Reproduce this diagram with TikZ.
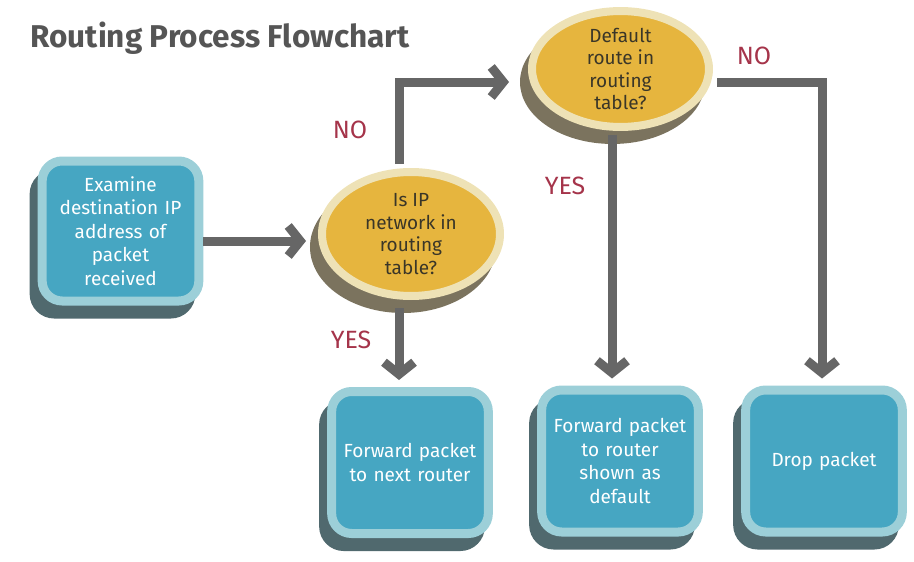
\documentclass[tikz,border=0pt]{standalone}
\usepackage{fontspec}
\setmainfont{Fira Sans}
\usetikzlibrary{shapes.geometric,arrows.meta}
\definecolor{boxfill}{HTML}{46A6C2}
\definecolor{boxrim}{HTML}{9CCFD8}
\definecolor{boxshade}{HTML}{50696E}
\definecolor{decfill}{HTML}{E6B53E}
\definecolor{decrim}{HTML}{EEE2B6}
\definecolor{decshade}{HTML}{7B735E}
\definecolor{arrowgray}{HTML}{666666}
\definecolor{labred}{HTML}{A5344A}
\definecolor{titlegray}{HTML}{555555}
\definecolor{dectext}{HTML}{3A3628}
\begin{document}
\begin{tikzpicture}[x=1pt,y=-1pt,
  procbox/.style={rectangle, rounded corners=20pt, fill=boxfill, draw=boxrim, line width=9pt,
    minimum width=155pt, minimum height=142pt, text width=150pt, align=center,
    text=white, font=\fontsize{19}{23.5}\selectfont,
    preaction={draw=boxshade, fill=boxshade, transform canvas={xshift=-8pt,yshift=-13pt}}},
  decision/.style={ellipse, fill=decfill, draw=decrim, line width=8pt, align=center,
    text=dectext, font=\fontsize{19}{22.5}\selectfont, inner sep=0pt,
    preaction={draw=decshade, fill=decshade, transform canvas={xshift=-8pt,yshift=-13pt}}},
  arr/.style={draw=arrowgray, line width=9pt, line join=miter,
    -{Straight Barb[length=12pt,width=30pt]}},
  lab/.style={text=labred, font=\fontsize{25}{28}\selectfont},
]
\useasboundingbox (0,0) rectangle (914,562);

\node[anchor=west, text=titlegray, font=\fontsize{31.5}{34}\selectfont\bfseries] (title) at (27,38) {Routing Process Flowchart};

\node[procbox, minimum height=140pt] (box1) at (120.5,231) {Examine\\destination IP\\address of\\packet\\received};
\node[decision, minimum width=178pt, minimum height=124pt] (dec1) at (411,234) {Is IP\\network in\\routing\\table?};
\node[decision, minimum width=177pt, minimum height=114pt] (dec2) at (620.5,69) {Default\\route in\\routing\\table?};
\node[procbox] (box2) at (410,462.5) {Forward packet\\to next router};
\node[procbox] (box3) at (620,461) {Forward packet\\to router\\shown as\\default};
\node[procbox] (box4) at (824,461) {Drop packet};

\draw[arr] ([yshift=-10pt]box1.east) -- ([xshift=-12pt,yshift=-7pt]dec1.west);
\draw[arr] ([xshift=-12pt,yshift=4pt]dec1.north) |- ([xshift=-19pt,yshift=-13pt]dec2.west);
\draw[arr] ([xshift=-12pt,yshift=-8pt]dec1.south) -- ([xshift=-11pt,yshift=7pt]box2.north);
\draw[arr] ([xshift=-8.5pt,yshift=-4pt]dec2.south) -- ([xshift=-8pt,yshift=7pt]box3.north);
\draw[arr] ([xshift=4pt,yshift=-13pt]dec2.east) -| ([xshift=-2pt,yshift=7pt]box4.north);

\node[lab] (no1) at (350,130) {NO};
\node[lab] (no2) at (754,56) {NO};
\node[lab] (yes1) at (565,186) {YES};
\node[lab] (yes2) at (351,340) {YES};
\end{tikzpicture}
\end{document}
